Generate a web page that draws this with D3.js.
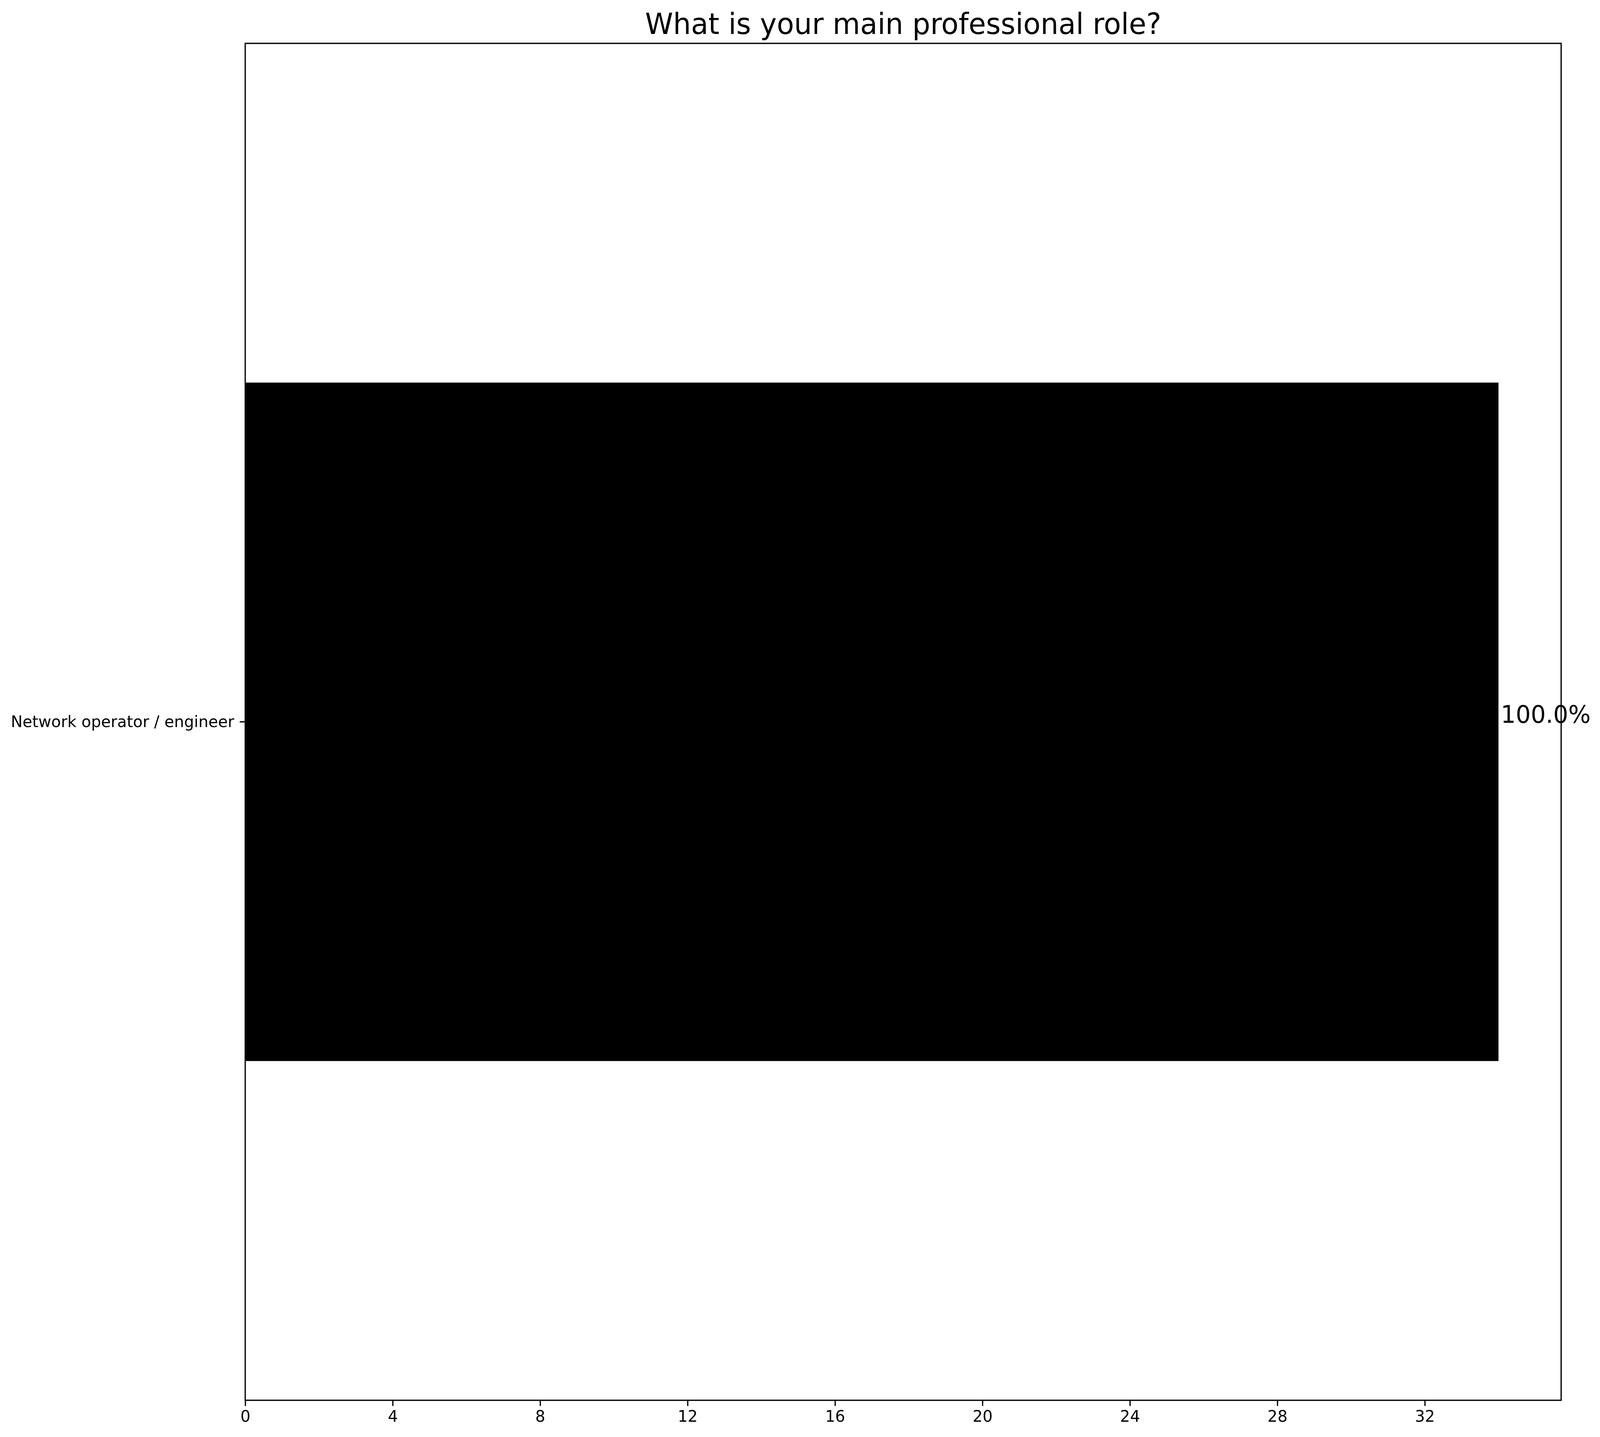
<!DOCTYPE html>
<html>
<head>
<meta charset="utf-8">
<script src="https://d3js.org/d3.v7.min.js"></script>
<style>
  html, body { margin: 0; padding: 0; background: white; overflow: hidden; }
  svg { display: block; position: fixed; left: 0; top: 0; width: 100vw; height: 100vh; }
  text { font-family: "DejaVu Sans", sans-serif; fill: black; }
</style>
</head>
<body>
<div class="plot"></div>
<script>
// Data
var categories = ["Network operator / engineer"];
var counts = [34];
var percentLabels = ["100.0%"];
var xTicks = [0, 4, 8, 12, 16, 20, 24, 28, 32];
var title = "What is your main professional role?";

var margin = {top: 111, right: 103, bottom: 94, left: 650},
    outerWidth = 4241,
    outerHeight = 3678,
    width = outerWidth - margin.left - margin.right,
    height = outerHeight - margin.top - margin.bottom;

// Canvas is drawn in 4241x3678 units and stretched to fill the window
var svg = d3.select(".plot")
    .append("svg")
    .attr("viewBox", "0 0 " + outerWidth + " " + outerHeight)
    .attr("preserveAspectRatio", "none");

svg.append("rect")
    .attr("width", outerWidth)
    .attr("height", outerHeight)
    .attr("fill", "white");

var canvas = svg.append("g")
    .attr("transform", "translate(" + margin.left + "," + margin.top + ")");

// x domain padded by 5% like the original
var xScale = d3.scaleLinear()
    .domain([0, d3.max(counts) * 1.05])
    .range([0, width]);

var yScale = d3.scaleBand()
    .domain(categories)
    .range([0, height])
    .paddingInner(0.2)
    .paddingOuter(0.4);

// Bars
canvas.selectAll(".bar")
    .data(categories)
    .enter().append("rect")
    .attr("class", "bar")
    .attr("x", xScale(0))
    .attr("y", d => yScale(d))
    .attr("width", (d, i) => xScale(counts[i]) - xScale(0))
    .attr("height", yScale.bandwidth())
    .attr("fill", "black");

// Percent labels
canvas.selectAll(".pct")
    .data(categories)
    .enter().append("text")
    .attr("class", "pct")
    .attr("x", (d, i) => xScale(counts[i]) + 6)
    .attr("y", d => yScale(d) + yScale.bandwidth() / 2 + 3)
    .style("font-size", "62.5px")
    .text((d, i) => percentLabels[i]);

// Axes
var xAxis = d3.axisBottom(xScale)
    .tickValues(xTicks)
    .tickSize(14.6)
    .tickPadding(11)
    .tickSizeOuter(0);

var yAxis = d3.axisLeft(yScale)
    .tickSize(14.6)
    .tickPadding(14.6)
    .tickSizeOuter(0);

var gx = canvas.append("g")
    .attr("class", "x axis")
    .attr("transform", "translate(0," + height + ")")
    .call(xAxis);
gx.select(".domain").remove();
gx.selectAll("line").attr("stroke-width", 3.3);
gx.selectAll("text").style("font-size", "41.7px");

var gy = canvas.append("g")
    .attr("class", "y axis")
    .call(yAxis);
gy.select(".domain").remove();
gy.selectAll("line").attr("stroke-width", 3.3);
gy.selectAll("text").style("font-size", "41.7px");

// Frame
canvas.append("rect")
    .attr("x", 0)
    .attr("y", 0)
    .attr("width", width)
    .attr("height", height)
    .attr("fill", "none")
    .attr("stroke", "black")
    .attr("stroke-width", 3.3);

// Title
canvas.append("text")
    .attr("text-anchor", "middle")
    .attr("x", width / 2)
    .attr("y", -24)
    .style("font-size", "75px")
    .text(title);
</script>
</body>
</html>
